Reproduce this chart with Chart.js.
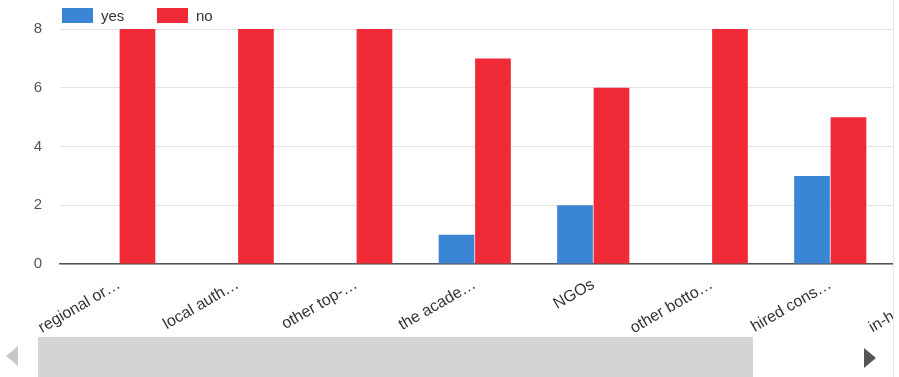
<!DOCTYPE html>
<html>
<head>
<meta charset="utf-8">
<script src="https://cdn.jsdelivr.net/npm/chart.js@4/dist/chart.umd.min.js"></script>
<style>
  body { margin: 0; background: #fff; font-family: "Liberation Sans", Arial, sans-serif; }
  #frame { position: relative; width: 893px; height: 377px; overflow: hidden; border-right: 1px solid #e6e6e6; }
  #wrap { position: absolute; left: 0; top: 0; width: 1012px; height: 336px; }
  .legend { position: absolute; top: 7px; font-size: 15px; color: #333; display: flex; align-items: center; }
  .legend i { display: inline-block; width: 31px; height: 15px; margin-right: 8px; }
  #track { position: absolute; left: 38px; top: 337px; width: 715px; height: 40px; background: #d4d4d4; }
  .arrow { position: absolute; width: 0; height: 0; border-top: 10px solid transparent; border-bottom: 10px solid transparent; }
  #left { left: 6px; top: 346px; border-right: 12px solid #c8c8c8; }
  #right { left: 864px; top: 348px; border-left: 12px solid #555; }
</style>
</head>
<body>
<div id="frame">
  <div id="wrap"><canvas id="dispChart"></canvas></div>
  <div class="legend" style="left:62px"><i style="background:#3a86d4"></i>yes</div>
  <div class="legend" style="left:157px"><i style="background:#f02a36"></i>no</div>
  <div id="track"></div>
  <div class="arrow" id="left"></div>
  <div class="arrow" id="right"></div>
</div>
<script>
  // answer counts per group
  const categories = ['regional or…', 'local auth…', 'other top-…', 'the acade…', 'NGOs', 'other botto…', 'hired cons…', 'in-house e…'];
  const yesValues = [0, 0, 0, 1, 2, 0, 3, 2];
  const noValues = [8, 8, 8, 7, 6, 8, 5, 6];
  const yTicks = [0, 2, 4, 6, 8];

  const data = {
    labels: categories,
    datasets: [{
      label: 'yes',
      data: yesValues,
      backgroundColor: '#3a86d4',
      borderWidth: 0
    }, {
      label: 'no',
      data: noValues,
      backgroundColor: '#f02a36',
      borderWidth: 0
    }]
  };

  const config = {
    type: 'bar',
    data: data,
    options: {
      responsive: true,
      maintainAspectRatio: false,
      animation: false,
      layout: { padding: { left: 27, right: 4, top: 29, bottom: 0 } },
      datasets: { bar: { categoryPercentage: 0.615, barPercentage: 0.98 } },
      plugins: { legend: { display: false }, tooltip: { enabled: false } },
      scales: {
        x: {
          grid: { display: false, drawTicks: false },
          border: { color: '#555', width: 1.5 },
          ticks: {
            color: '#333',
            font: { family: 'Liberation Sans', size: 16 },
            maxRotation: 30, minRotation: 30,
            autoSkip: false,
            padding: 11
          },
          afterFit: scale => { scale.height = 72; }
        },
        y: {
          min: 0, max: 8,
          afterBuildTicks: scale => { scale.ticks = yTicks.map(v => ({ value: v })); },
          grid: { color: '#e4e4e4', drawTicks: false },
          border: { display: false },
          ticks: {
            color: '#555',
            font: { family: 'Liberation Sans', size: 15 },
            padding: 18
          },
          afterFit: scale => { scale.width = 33; }
        }
      }
    }
  };

  const myChart = new Chart(document.getElementById('dispChart'), config);
</script>
</body>
</html>
